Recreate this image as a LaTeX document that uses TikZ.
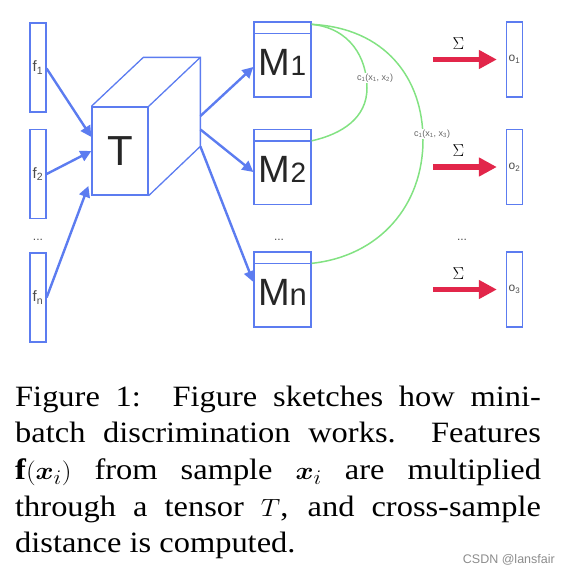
\documentclass[tikz,border=0pt]{standalone}
\usepackage{amsmath}
\usepackage{graphicx}
\usepackage{fontspec}
\setmainfont{Liberation Serif}
\newfontfamily\sansfont{Liberation Sans}
\usepackage{tikz}
\usetikzlibrary{arrows.meta,calc}

\definecolor{netblue}{RGB}{92,124,240}
\definecolor{simgreen}{RGB}{130,226,130}
\definecolor{sumred}{RGB}{226,38,74}

\newcommand{\capline}[1]{\makebox[478pt][s]{#1}}

\tikzset{
	vecbox/.style={draw=netblue, line width=1.3pt, minimum width=16pt, minimum height=89pt, inner sep=0pt, text=black!70, font=\sansfont\fontsize{15}{15}\selectfont},
	matbox/.style={draw=netblue, line width=1.3pt, minimum width=57pt, minimum height=75pt, inner sep=0pt, text height=31pt, text depth=0pt, text=black!85, font=\sansfont\fontsize{38}{38}\selectfont},
	feedarrow/.style={draw=netblue, line width=2.4pt, -{Triangle[length=11pt,width=11pt]}},
	sumarrow/.style={draw=sumred, line width=5.5pt, -{Triangle[length=18pt,width=18pt]}},
	simcurve/.style={draw=simgreen, line width=1.5pt},
	simlabel/.style={fill=white, inner sep=1pt, text=black!60, font=\sansfont\fontsize{9}{9}\selectfont},
	dotlabel/.style={text=black!70, font=\sansfont\fontsize{12}{12}\selectfont},
}

\begin{document}
\begin{tikzpicture}[x=1pt, y=-1pt]
		\useasboundingbox (0,0) rectangle (565,576);
		% feature vectors
		\node[vecbox] (f1) at (38,67.5) {f\textsubscript{1}};
		\node[vecbox] (f2) at (38,174) {f\textsubscript{2}};
		\node[dotlabel] (fdots) at (38,240) {...};
		\node[vecbox] (fn) at (38,297.5) {f\textsubscript{n}};
		% tensor T
		\node[draw=netblue, line width=1.3pt, minimum width=56pt, minimum height=88pt, inner sep=0pt, text height=28pt, text depth=0pt, text=black!85, font=\sansfont\fontsize{42}{42}\selectfont] (T) at (120,151) {T};
		\draw[netblue, line width=1.3pt] (T.north west) -- ++(52,-49) -- ++(57,0) coordinate (tr) -- ++(0,89) coordinate (br) -- (T.south east);
		\draw[netblue, line width=1.3pt] (T.north east) -- (tr);
		\draw[feedarrow] (f1.east) ++(0,1) -- ([yshift=14pt]T.west);
		\draw[feedarrow] (f2.east) -- (T.west);
		\draw[feedarrow] (fn.east) -- ([yshift=-35pt,xshift=-3pt]T.west);
		% M matrices
		\node[matbox] (M1) at (282.5,59.5) {M{\fontsize{28}{28}\selectfont 1}};
		\node[matbox] (M2) at (282.5,167) {M{\fontsize{28}{28}\selectfont 2}};
		\node[dotlabel] (mdots) at (279,240) {...};
		\node[matbox] (Mn) at (282.5,289.5) {M{\fontsize{31}{31}\selectfont n}};
		\foreach \m in {M1,M2,Mn}
			\draw[netblue, line width=1.3pt] ([yshift=-12pt]\m.north west) -- ([yshift=-12pt]\m.north east);
		\draw[feedarrow] ($(tr)!0.66!(br)$) -- ([yshift=-7.5pt]M1.west);
		\draw[feedarrow] ($(tr)!0.81!(br)$) -- ([yshift=-5pt]M2.west);
		\draw[feedarrow] (br) -- ([yshift=7.5pt]Mn.west);
		% distances
		\draw[simcurve] ([yshift=-3pt]M1.north east) .. controls (350,28) and (367,58) .. (367,88) .. controls (367,118) and (342,134) .. ([yshift=-12pt]M2.north east);
		\draw[simcurve] ([yshift=-3pt]M1.north east) .. controls (385,28) and (423,78) .. (423,140) .. controls (423,205) and (380,256) .. ([yshift=-12pt]Mn.north east);
		\node[simlabel] (c12) at (375,78) {c\textsubscript{1}(x\textsubscript{1}, x\textsubscript{2})};
		\node[simlabel] (c13) at (432,134) {c\textsubscript{1}(x\textsubscript{1}, x\textsubscript{3})};
		% outputs
		\node[vecbox, minimum height=75pt, font=\sansfont\fontsize{12}{12}\selectfont] (o1) at (514.5,59.5) {o\textsubscript{1}};
		\node[vecbox, minimum height=75pt, font=\sansfont\fontsize{12}{12}\selectfont] (o2) at (514.5,167) {o\textsubscript{2}};
		\node[dotlabel] (odots) at (462,240) {...};
		\node[vecbox, minimum height=75pt, font=\sansfont\fontsize{12}{12}\selectfont] (o3) at (514.5,289.5) {o\textsubscript{3}};
		\foreach \o in {o1,o2,o3} {
			\coordinate (s\o) at ([xshift=-73pt]\o.west);
			\draw[sumarrow] (s\o) -- ([xshift=-9pt]\o.west) node[pos=0.4, above=4pt, text=black, font=\fontsize{19}{19}\selectfont] {$\Sigma$};
		}
		% caption
		\node[anchor=base west, inner sep=0pt, font=\fontsize{29.5}{36.7}\selectfont] (cap) at (15,406) {\scalebox{1.1}[1]{\parbox[t]{478pt}{%
			\capline{Figure 1:\ \ Figure sketches how mini-}\\
			\capline{batch discrimination works.\ \ Features}\\
			\capline{$\mathbf{f}(\boldsymbol{x}_i)$ from sample $\boldsymbol{x}_i$ are multiplied}\\
			\capline{through a tensor $T$, and cross-sample}\\
			distance is computed.}}};
		\node[anchor=east, inner sep=0pt, text=black!45, font=\sansfont\fontsize{12.5}{12.5}\selectfont] (mark) at (555,560) {CSDN @lansfair};
	\end{tikzpicture}
\end{document}
